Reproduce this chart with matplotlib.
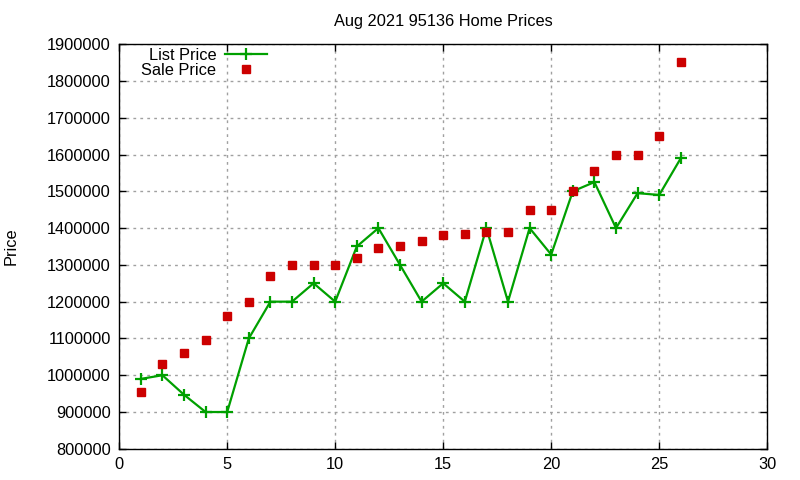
import matplotlib
matplotlib.use("Agg")
import matplotlib.pyplot as plt

# Home prices for 95136, Aug 2021
homes = list(range(1, 27))
list_price = [990000, 1000000, 947000, 900000, 900000, 1100000, 1200000, 1200000,
              1250000, 1200000, 1350000, 1400000, 1300000, 1200000, 1250000, 1200000,
              1400000, 1200000, 1400000, 1328000, 1500000, 1525000, 1400000, 1495000,
              1490000, 1590000]
sale_price = [955000, 1030000, 1060000, 1095000, 1160000, 1200000, 1270000, 1300000,
              1300000, 1300000, 1320000, 1345000, 1350000, 1365000, 1380000, 1385000,
              1390000, 1390000, 1450000, 1450000, 1500000, 1555000, 1600000, 1600000,
              1650000, 1852000]

plt.rcParams['font.family'] = ['Liberation Sans', 'DejaVu Sans']
plt.rcParams['font.size'] = 11.8

fig = plt.figure(figsize=(8, 4.8), dpi=100)
ax = fig.add_axes([0.149, 0.065, 0.81, 0.843])

ax.plot(homes, list_price, color='#00a000', lw=1.6, marker='+', ms=9, mew=1.6,
        label='List Price')
ax.plot(homes, sale_price, ls='none', color='#cc0000', marker='s', ms=6.2,
        label='Sale Price')

ax.set_xlim(0, 30)
ax.set_ylim(800000, 1900000)
ax.set_xticks(range(0, 31, 5))
ax.set_yticks(range(800000, 1900001, 100000))
ax.ticklabel_format(axis='y', style='plain', useOffset=False)
ax.tick_params(direction='in', top=True, right=True, length=5, width=1, pad=6)
ax.grid(True, ls=(0, (2, 3)), color='#a0a0a0', lw=1)
for s in ax.spines.values():
    s.set_linewidth(1)

ax.set_title('Aug 2021 95136 Home Prices', fontsize=11.8, pad=13)
ax.set_ylabel('Price')
ax.yaxis.set_label_coords(-0.155, 0.5)

leg = ax.legend(loc='upper right', bbox_to_anchor=(0.2284, 0.99), frameon=False,
                markerfirst=False, handlelength=2.56, handletextpad=0.55,
                labelspacing=0.0, borderaxespad=0.0, borderpad=0.0)

plt.savefig('out.png', dpi=100)
